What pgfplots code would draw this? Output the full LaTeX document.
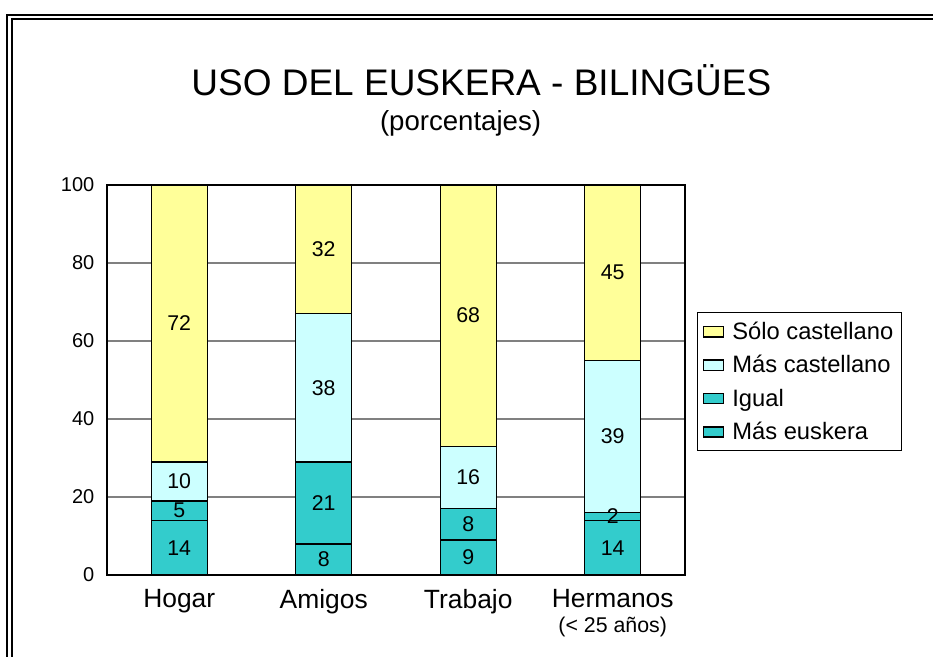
\documentclass[border=0pt]{standalone}
\usepackage{fontspec}
\setmainfont{Liberation Sans}
\usepackage{pgfplots}
\pgfplotsset{compat=1.18}
\definecolor{tealA}{HTML}{33CCCC}
\definecolor{lcyan}{HTML}{CCFFFF}
\definecolor{lyel}{HTML}{FFFF99}
\definecolor{gridgray}{HTML}{808080}
\begin{document}
\begin{tikzpicture}
\useasboundingbox (0,0) rectangle (699.75pt,492.75pt);
% frame (double line, top and left)
\draw[line width=1.4pt] (5.5pt,0) -- (5.5pt,481.5pt) -- (699.75pt,481.5pt);
\draw[line width=1.4pt] (8.75pt,0) -- (8.75pt,478.5pt) -- (699.75pt,478.5pt);
% titles
\node[anchor=base, font=\fontsize{27.75}{32}\selectfont, inner sep=0pt] at (361pt,420.75pt) {USO DEL EUSKERA - BILINGÜES};
\node[anchor=base, font=\fontsize{20.7}{24}\selectfont, inner sep=0pt] at (345.4pt,394.5pt) {(porcentajes)};
\begin{axis}[
  at={(80.25pt,61.5pt)}, anchor=south west,
  scale only axis, width=433.5pt, height=292.5pt,
  xmin=-0.5, xmax=3.5, ymin=0, ymax=100,
  ybar stacked, bar width=42pt,
  xtick={0,1,2,3},
  xticklabels={Hogar,Amigos,Trabajo,{Hermanos\\[-3pt]{\fontsize{16}{18}\selectfont(< 25 años)}}},
  xticklabel style={align=center, font=\fontsize{19.8}{22}\selectfont, yshift=-7pt},
  ytick={0,20,...,100},
  yticklabel style={font=\fontsize{15}{18}\selectfont, xshift=-6pt},
  /pgf/number format/assume math mode=true,
  major tick length=0pt,
  ymajorgrids, grid style={gridgray, line width=0.8pt},
  axis line style={black, line width=1.2pt},
  legend style={at={(axis description cs:1.0208,0.674)}, anchor=north west,
    draw=black, line width=0.8pt, font=\fontsize{17.8}{20}\selectfont,
    row sep=6.5pt, inner xsep=4pt, inner ysep=5pt,
    /tikz/every odd column/.append style={column sep=4pt}},
  reverse legend,
  legend cell align=left,
  legend image code/.code={\draw[#1, draw=black, line width=1.1pt] (0pt,-3.8pt) rectangle (15pt,3.8pt);},
]
\addplot[fill=tealA, draw=black, line width=1.1pt] coordinates {(0,14) (1,8) (2,9) (3,14)};
\addlegendentry{Más euskera}
\addplot[fill=tealA, draw=black, line width=1.1pt] coordinates {(0,5) (1,21) (2,8) (3,2)};
\addlegendentry{Igual}
\addplot[fill=lcyan, draw=black, line width=1.1pt] coordinates {(0,10) (1,38) (2,16) (3,39)};
\addlegendentry{Más castellano}
\addplot[fill=lyel, draw=black, line width=1.1pt] coordinates {(0,71) (1,33) (2,67) (3,45)};
\addlegendentry{Sólo castellano}
\end{axis}
\begin{axis}[
  at={(80.25pt,61.5pt)}, anchor=south west,
  scale only axis, width=433.5pt, height=292.5pt,
  xmin=-0.5, xmax=3.5, ymin=0, ymax=100,
  hide axis, clip=false,
]
\addplot[only marks, mark=none, nodes near coords, point meta=explicit symbolic,
  every node near coord/.append style={anchor=center, text=black, font=\fontsize{16}{18}\selectfont}]
  coordinates {
  (0,7)[14] (0,16.5)[5] (0,24)[10] (0,64.5)[72]
  (1,4)[8] (1,18.5)[21] (1,48)[38] (1,83.5)[32]
  (2,4.5)[9] (2,13)[8] (2,25)[16] (2,66.5)[68]
  (3,7)[14] (3,15)[2] (3,35.5)[39] (3,77.5)[45]
  };
\end{axis}
\end{tikzpicture}
\end{document}
